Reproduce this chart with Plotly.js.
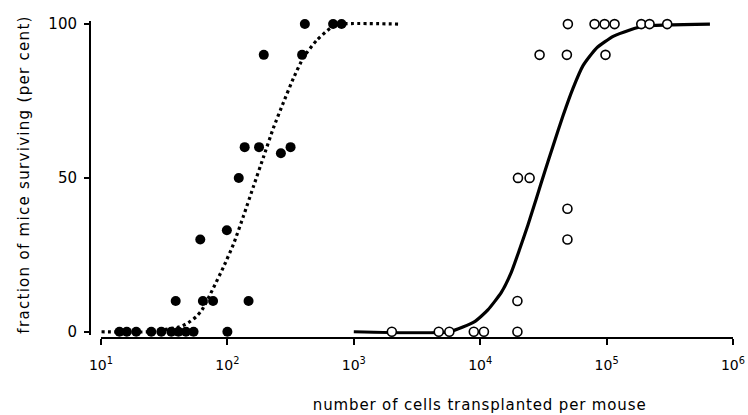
<!DOCTYPE html>
<html>
<head>
<meta charset="utf-8">
<script src="https://cdn.plot.ly/plotly-3.0.1.min.js"></script>
<style>
  html, body { margin: 0; padding: 0; background: #fff; }
  #chart { width: 748px; height: 415px; }
</style>
</head>
<body>
<div id="chart"></div>
<script>
// Filled dots (first cell population)
const filledCells = [14, 16, 19, 25, 30, 36, 41, 47, 54, 100,
                     39, 64, 77, 147,
                     61, 99, 123,
                     137, 178, 265, 316,
                     194, 390,
                     410, 686, 800];
const filledSurvival = [0, 0, 0, 0, 0, 0, 0, 0, 0, 0,
                        10, 10, 10, 10,
                        30, 33, 50,
                        60, 60, 58, 60,
                        90, 90,
                        100, 100, 100];

// Dotted fitted curve
const dottedCells = [10.1, 24, 42, 49, 57, 63, 77, 93, 112, 134, 161, 193, 231, 278, 333, 400, 510, 650, 780, 2300];
const dottedSurvival = [0, 0, 1.6, 2.9, 5.0, 7.1, 14.0, 21.0, 28.6, 37.6, 47.3, 56.8, 66.2, 74.6, 82.4, 89.2, 94.8, 98.6, 100, 100];

// Open circles (second cell population)
const openCells = [2000, 4700, 5700, 8900, 10700, 19700,
                   19700, 49000, 49000,
                   19900, 24600,
                   29500, 48500, 98000,
                   49400, 80300, 96400, 115600, 188000, 218700, 301700];
const openSurvival = [0, 0, 0, 0, 0, 0,
                      10, 30, 40,
                      50, 50,
                      90, 90, 90,
                      100, 100, 100, 100, 100, 100, 100];

// Solid fitted curve
const solidCells = [1000, 5700, 9040, 11500, 14700, 17650, 20500, 23900, 27900, 32400, 37700, 45200, 54300, 65100, 83200, 112700, 152800, 194800, 657000];
const solidSurvival = [0, 0, 3.3, 7.1, 12.8, 19.4, 26.8, 34.8, 43.5, 52.0, 60.4, 70.2, 79.2, 86.5, 92.2, 96, 98.1, 99.3, 100];

// Axis ticks
const xTickVals = [10, 100, 1000, 10000, 100000, 1000000];
const xTickText = ['10<sup>1</sup>', '10<sup>2</sup>', '10<sup>3</sup>', '10<sup>4</sup>', '10<sup>5</sup>', '10<sup>6</sup>'];
const yTickVals = [0, 50, 100];
const yTickText = ['0', '50', '100'];

const xTitle = 'number of cells transplanted per mouse';
const yTitle = 'fraction of mice surviving (per cent)';

const FONT = 'DejaVu Sans, sans-serif';

const traces = [
  {
    x: dottedCells, y: dottedSurvival, type: 'scatter', mode: 'lines',
    line: { color: '#000', width: 3.2, dash: '3px,3.3px', shape: 'spline', smoothing: 0.5 },
    hoverinfo: 'skip'
  },
  {
    x: solidCells, y: solidSurvival, type: 'scatter', mode: 'lines',
    line: { color: '#000', width: 3.2, shape: 'spline', smoothing: 0.5 },
    hoverinfo: 'skip'
  },
  {
    x: filledCells, y: filledSurvival, type: 'scatter', mode: 'markers',
    marker: { color: '#000', size: 10, line: { width: 0 } },
    cliponaxis: false
  },
  {
    x: openCells, y: openSurvival, type: 'scatter', mode: 'markers',
    marker: { color: '#fff', size: 9, line: { color: '#000', width: 1.6 } },
    cliponaxis: false
  }
];

const layout = {
  width: 748, height: 415,
  margin: { l: 90, r: 15, t: 21, b: 77 },
  paper_bgcolor: '#fff', plot_bgcolor: '#fff',
  showlegend: false,
  font: { family: FONT, color: '#000' },
  xaxis: {
    type: 'log', range: [1, 6], domain: [0.0171, 1],
    anchor: 'free', position: 0,
    showgrid: false, zeroline: false,
    showline: true, linecolor: '#000', linewidth: 2,
    ticks: 'outside', ticklen: 6, tickwidth: 2, tickcolor: '#000',
    tickmode: 'array', tickvals: xTickVals, ticktext: xTickText,
    ticklabelstandoff: 8,
    tickfont: { family: FONT, size: 14, color: '#000' }
  },
  yaxis: {
    range: [-1, 101], domain: [0.01, 1],
    anchor: 'free', position: 0,
    showgrid: false, zeroline: false,
    showline: true, linecolor: '#000', linewidth: 2,
    ticks: 'outside', ticklen: 5, tickwidth: 2, tickcolor: '#000',
    tickmode: 'array', tickvals: yTickVals, ticktext: yTickText,
    ticklabelstandoff: 4,
    tickfont: { family: FONT, size: 15, color: '#000' }
  },
  annotations: [
    {
      text: xTitle,
      xref: 'paper', yref: 'paper', x: 0.6065, y: 0,
      xanchor: 'center', yanchor: 'middle', yshift: -67,
      showarrow: false,
      font: { family: FONT, size: 15, color: '#000' }
    },
    {
      text: yTitle,
      xref: 'paper', yref: 'paper', x: 0, y: 0.5155,
      xanchor: 'center', yanchor: 'middle', xshift: -66,
      textangle: -90,
      showarrow: false,
      font: { family: FONT, size: 15, color: '#000' }
    }
  ]
};

Plotly.newPlot('chart', traces, layout, { staticPlot: true, displayModeBar: false }).then(function (gd) {
  const spacing = [0.85, 1.3];
  const notes = gd.querySelectorAll('.annotation-text');
  notes.forEach(function (el, i) {
    el.style.letterSpacing = spacing[i] + 'px';
  });
});
</script>
</body>
</html>
